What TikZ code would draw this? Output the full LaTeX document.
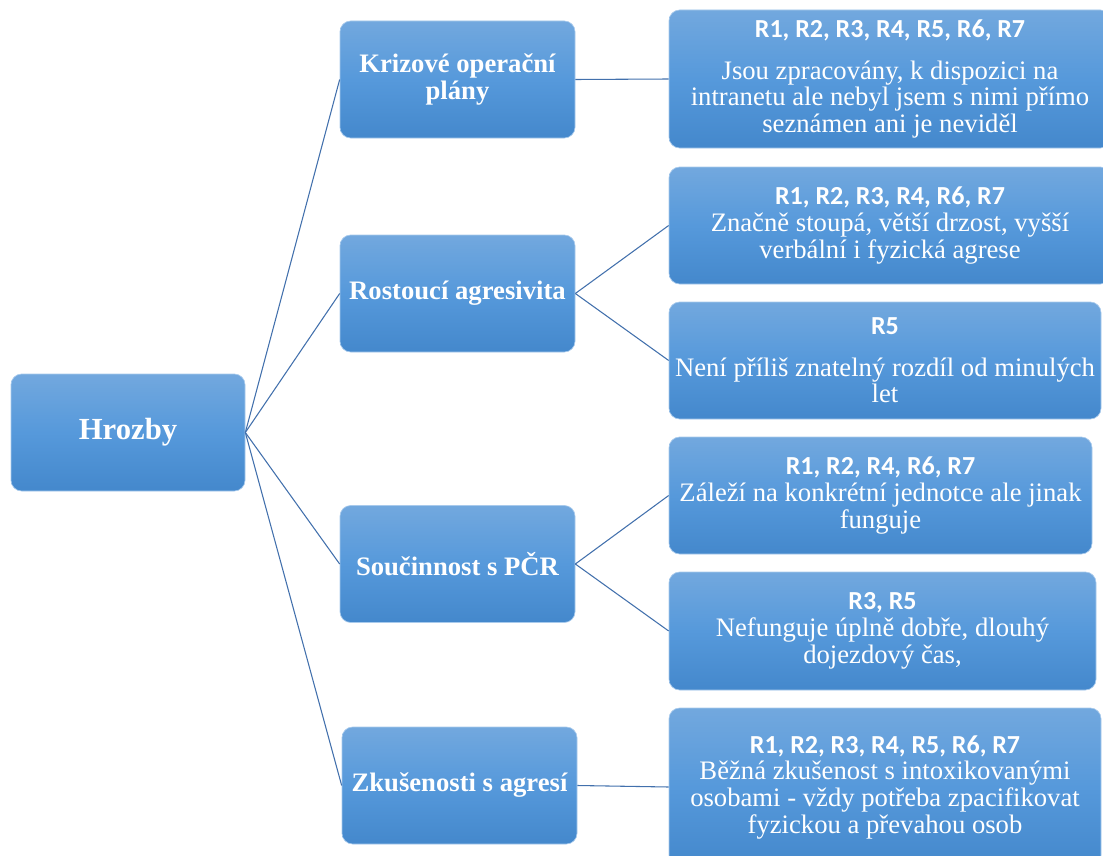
\documentclass[tikz,border=0pt]{standalone}
\usepackage{fontspec}
\setmainfont{Liberation Serif}
\newfontfamily\hdrfont{Carlito}

\definecolor{boxtop}{RGB}{114,168,222}
\definecolor{boxmid}{RGB}{86,153,219}
\definecolor{boxbot}{RGB}{68,136,204}
\definecolor{boxedge}{RGB}{168,202,236}
\definecolor{linkblue}{RGB}{66,112,172}

% bold sans heading line inside the answer boxes
\newcommand\hdr[1]{{\hdrfont\bfseries\fontsize{19.5}{19.5}\selectfont #1}}

\tikzset{
  box/.style={rounded corners=8pt, draw=boxedge, line width=0.5pt,
    top color=boxtop, bottom color=boxbot, middle color=boxmid,
    inner sep=0pt, text=white, align=center},
  size/.style 2 args={minimum width=#1*0.75pt, minimum height=#2*0.75pt},
  rootbox/.style={box, font=\bfseries\fontsize{23}{23}\selectfont},
  topicbox/.style={box, size={235}{117}, font=\bfseries\fontsize{20}{20.5}\selectfont},
  answerbox/.style={box, font=\fontsize{20}{20}\selectfont},
  link/.style={draw=linkblue, line width=0.8pt},
}

\begin{document}
\begin{tikzpicture}[x=0.75pt,y=-0.75pt]
\useasboundingbox (0,0) rectangle (1103,856);

% root
\node[rootbox, size={234}{117}] (root) at (128,432.5) {Hrozby};

% topics
\node[topicbox] (m1) at (457.5,79.5) {Krizové operační\\plány};
\node[topicbox] (m2) at (457.5,293.5) {Rostoucí agresivita};
\node[topicbox] (m3) at (457.5,564) {Součinnost s PČR};
\node[topicbox] (m4) at (459.5,785.5) {Zkušenosti s agresí};

% answers
\node[answerbox, size={442}{138}] (r1) at (890,79)
  {\hdr{R1, R2, R3, R4, R5, R6, R7}\\[11pt]
   Jsou zpracovány, k dispozici na\\
   intranetu ale nebyl jsem s nimi přímo\\
   seznámen ani je neviděl};
\node[answerbox, size={442}{117}] (r2) at (890,225.5)
  {\hdr{R1, R2, R3, R4, R6, R7}\\
   Značně stoupá, větší drzost, vyšší\\
   verbální i fyzická agrese};
\node[answerbox, size={432}{117}] (r3) at (885,360.5)
  {\hdr{R5}\\[11pt]
   Není příliš znatelný rozdíl od minulých\\
   let};
\node[answerbox, size={423}{117}] (r4) at (880.5,495.5)
  {\hdr{R1, R2, R4, R6, R7}\\
   Záleží na konkrétní jednotce ale jinak\\
   funguje};
\node[answerbox, size={427}{118}] (r5) at (882.5,631)
  {\hdr{R3, R5}\\
   Nefunguje úplně dobře, dlouhý\\
   dojezdový čas,};
\node[answerbox, size={432}{158}] (r6) at (885,787)
  {\hdr{R1, R2, R3, R4, R5, R6, R7}\\
   Běžná zkušenost s intoxikovanými\\
   osobami - vždy potřeba zpacifikovat\\
   fyzickou a převahou osob};

% connectors
\foreach \m in {m1,m2,m3,m4} \draw[link] (root.east) -- (\m.west);
\draw[link] (m1.east) -- (r1.west);
\draw[link] (m2.east) -- (r2.west);
\draw[link] (m2.east) -- (r3.west);
\draw[link] (m3.east) -- (r4.west);
\draw[link] (m3.east) -- (r5.west);
\draw[link] (m4.east) -- (r6.west);
\end{tikzpicture}
\end{document}
